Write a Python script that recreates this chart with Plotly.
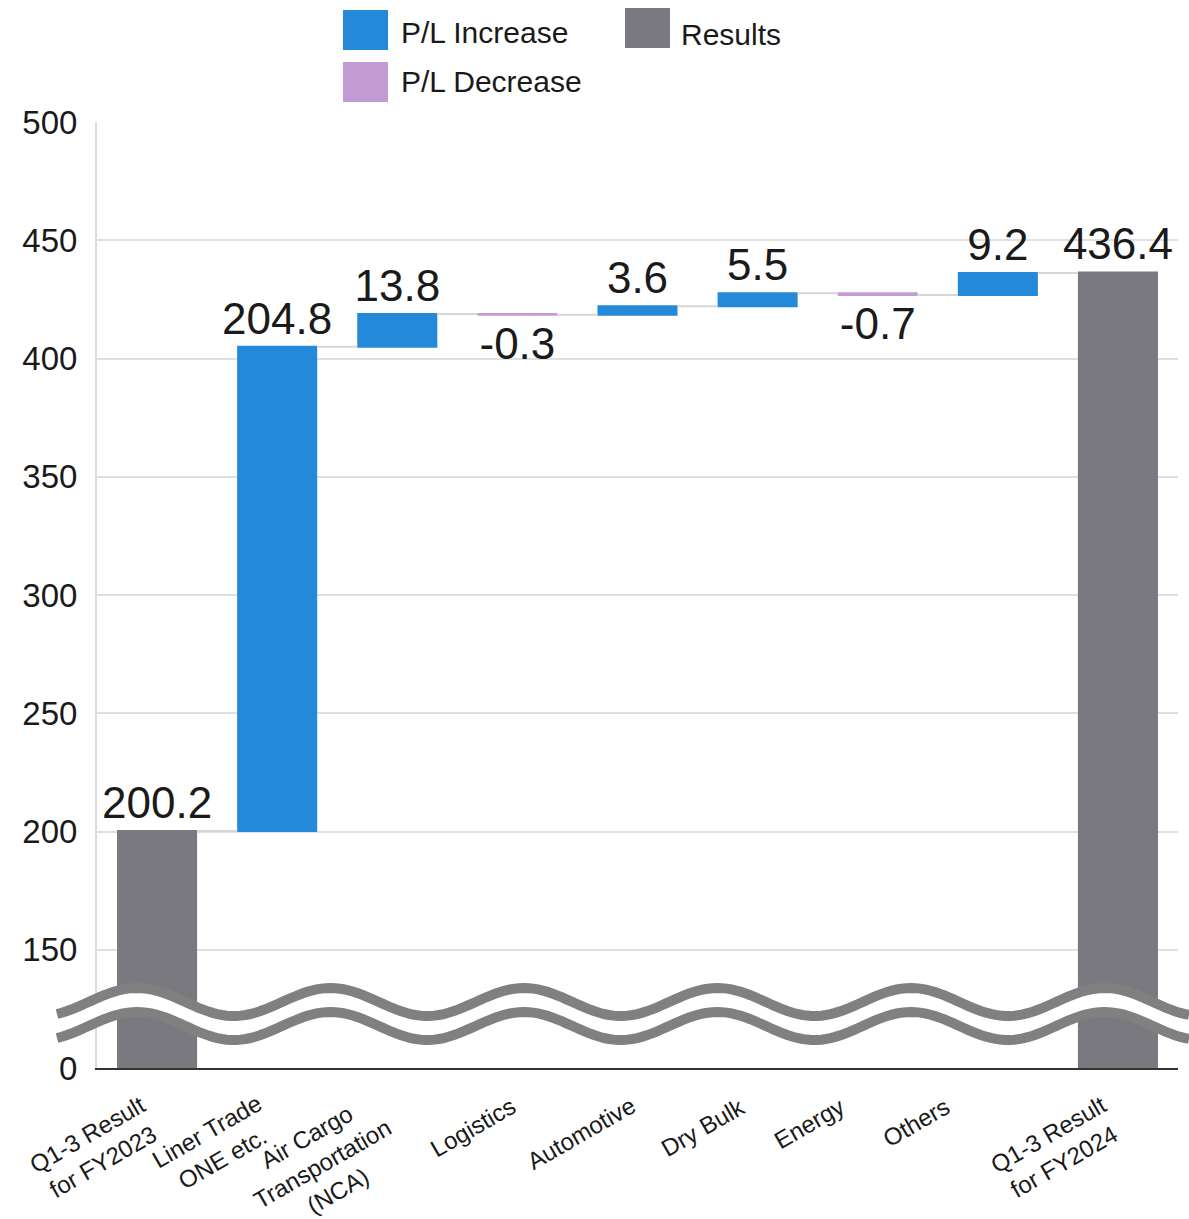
import math
import plotly.graph_objects as go

# ---- data ----
categories = [
    "Q1-3 Result<br>for FY2023",
    "Liner Trade<br>ONE etc.",
    "Air Cargo<br>Transportation<br>(NCA)",
    "Logistics",
    "Automotive",
    "Dry Bulk",
    "Energy",
    "Others",
    "Q1-3 Result<br>for FY2024",
]
values = [200.2, 204.8, 13.8, -0.3, 3.6, 5.5, -0.7, 9.2, 436.4]
measures = ["absolute", "relative", "relative", "relative", "relative",
            "relative", "relative", "relative", "absolute"]
labels = ["200.2", "204.8", "13.8", "-0.3", "3.6", "5.5", "-0.7", "9.2", "436.4"]
y_tickvals = [100, 150, 200, 250, 300, 350, 400, 450, 500]
y_ticktext = ["0", "150", "200", "250", "300", "350", "400", "450", "500"]
legend_names = ["P/L Increase", "P/L Decrease", "Results"]

BLUE = "#2389d8"
PURPLE = "#c39bd3"
GRAY = "#7a797f"
WAVE = "#808080"
FONT = "Liberation Sans, Arial, sans-serif"

W, H = 1189, 1219
ML, MR, MT, MB = 97, 11, 122, 151
PW = W - ML - MR
PH = H - MT - MB


def px_x(px):
    return (px - ML) / PW


def px_y(py):
    return (H - MB - py) / PH


fig = go.Figure()
fig.add_trace(go.Waterfall(
    x=categories,
    y=values,
    measure=measures,
    text=labels,
    textposition="outside",
    constraintext="none",
    cliponaxis=False,
    textfont=dict(family=FONT, size=44, color="#1a1a1a"),
    increasing=dict(marker=dict(color=BLUE)),
    decreasing=dict(marker=dict(color=PURPLE)),
    totals=dict(marker=dict(color=GRAY)),
    connector=dict(line=dict(color="#d6d6d6", width=2)),
    showlegend=False,
    hoverinfo="skip",
))

shapes = []
annotations = []

# ---- axis break wave ----
period = 193.5
x0p, x1p = 57, 1189
n = 240
xs = [x0p + (x1p - x0p) * i / n for i in range(n + 1)]
upper = [1002 - 14 * math.cos(2 * math.pi * (x - 137) / period) for x in xs]
lower = [u + 24 for u in upper]


def path_of(pxs, pys):
    pts = [f"{px_x(a):.5f},{px_y(b):.5f}" for a, b in zip(pxs, pys)]
    return "M" + " L".join(pts)


fill_path = path_of(xs, upper) + " L" + " L".join(
    f"{px_x(a):.5f},{px_y(b):.5f}" for a, b in zip(reversed(xs), reversed(lower))) + " Z"
shapes.append(dict(type="path", xref="paper", yref="paper", path=fill_path,
                   fillcolor="white", line=dict(width=0), layer="above"))
for ys_ in (upper, lower):
    shapes.append(dict(type="path", xref="paper", yref="paper", path=path_of(xs, ys_),
                       line=dict(color=WAVE, width=10), layer="above"))

# ---- manual legend ----
legend_items = [
    (legend_names[0], BLUE, 343, 10, 399, 33),
    (legend_names[1], PURPLE, 343, 62, 399, 82),
    (legend_names[2], GRAY, 625, 8, 679, 35),
]
for name, col, bx, by, tx, ty in legend_items:
    shapes.append(dict(type="rect", xref="paper", yref="paper",
                       x0=px_x(bx), x1=px_x(bx + 45), y0=px_y(by + 40), y1=px_y(by),
                       fillcolor=col, line=dict(width=0)))
    annotations.append(dict(xref="paper", yref="paper", x=px_x(tx), y=px_y(ty),
                            text=name, showarrow=False, xanchor="left", yanchor="middle",
                            font=dict(family=FONT, size=30, color="#1a1a1a")))

# ---- rotated category labels ----
label_centers_y = [1148, 1145, 1163, 1127, 1133, 1127, 1123, 1122, 1148]
label_shift = [-62, -63, -75, -45, -57, -55, -69, -82, -62]
for cat, cy, sh in zip(categories, label_centers_y, label_shift):
    annotations.append(dict(x=cat, xref="x", yref="paper", y=px_y(cy), text=cat,
                            showarrow=False, textangle=-30, xanchor="center",
                            yanchor="middle", xshift=sh, align="center",
                            font=dict(family=FONT, size=24, color="#1a1a1a")))

fig.update_layout(
    width=W, height=H,
    margin=dict(l=ML, r=MR, t=MT, b=MB, pad=0),
    paper_bgcolor="white", plot_bgcolor="white",
    waterfallgap=1 / 3,
    shapes=shapes,
    annotations=annotations,
    showlegend=False,
    font=dict(family=FONT, color="#1a1a1a"),
)
fig.update_xaxes(
    type="category", showticklabels=False, showgrid=False,
    showline=True, linecolor="#333333", linewidth=2,
    range=[-0.5, 8.5], zeroline=False,
)
fig.update_yaxes(
    range=[100, 500], tickvals=y_tickvals, ticktext=y_ticktext,
    showgrid=True, gridcolor="#e0e0e0", gridwidth=2,
    showline=True, linecolor="#dcdcdc", linewidth=2,
    zeroline=False, ticks="", ticklabelstandoff=11,
    tickfont=dict(family=FONT, size=33, color="#1a1a1a"),
)

fig.write_html("out.html")
